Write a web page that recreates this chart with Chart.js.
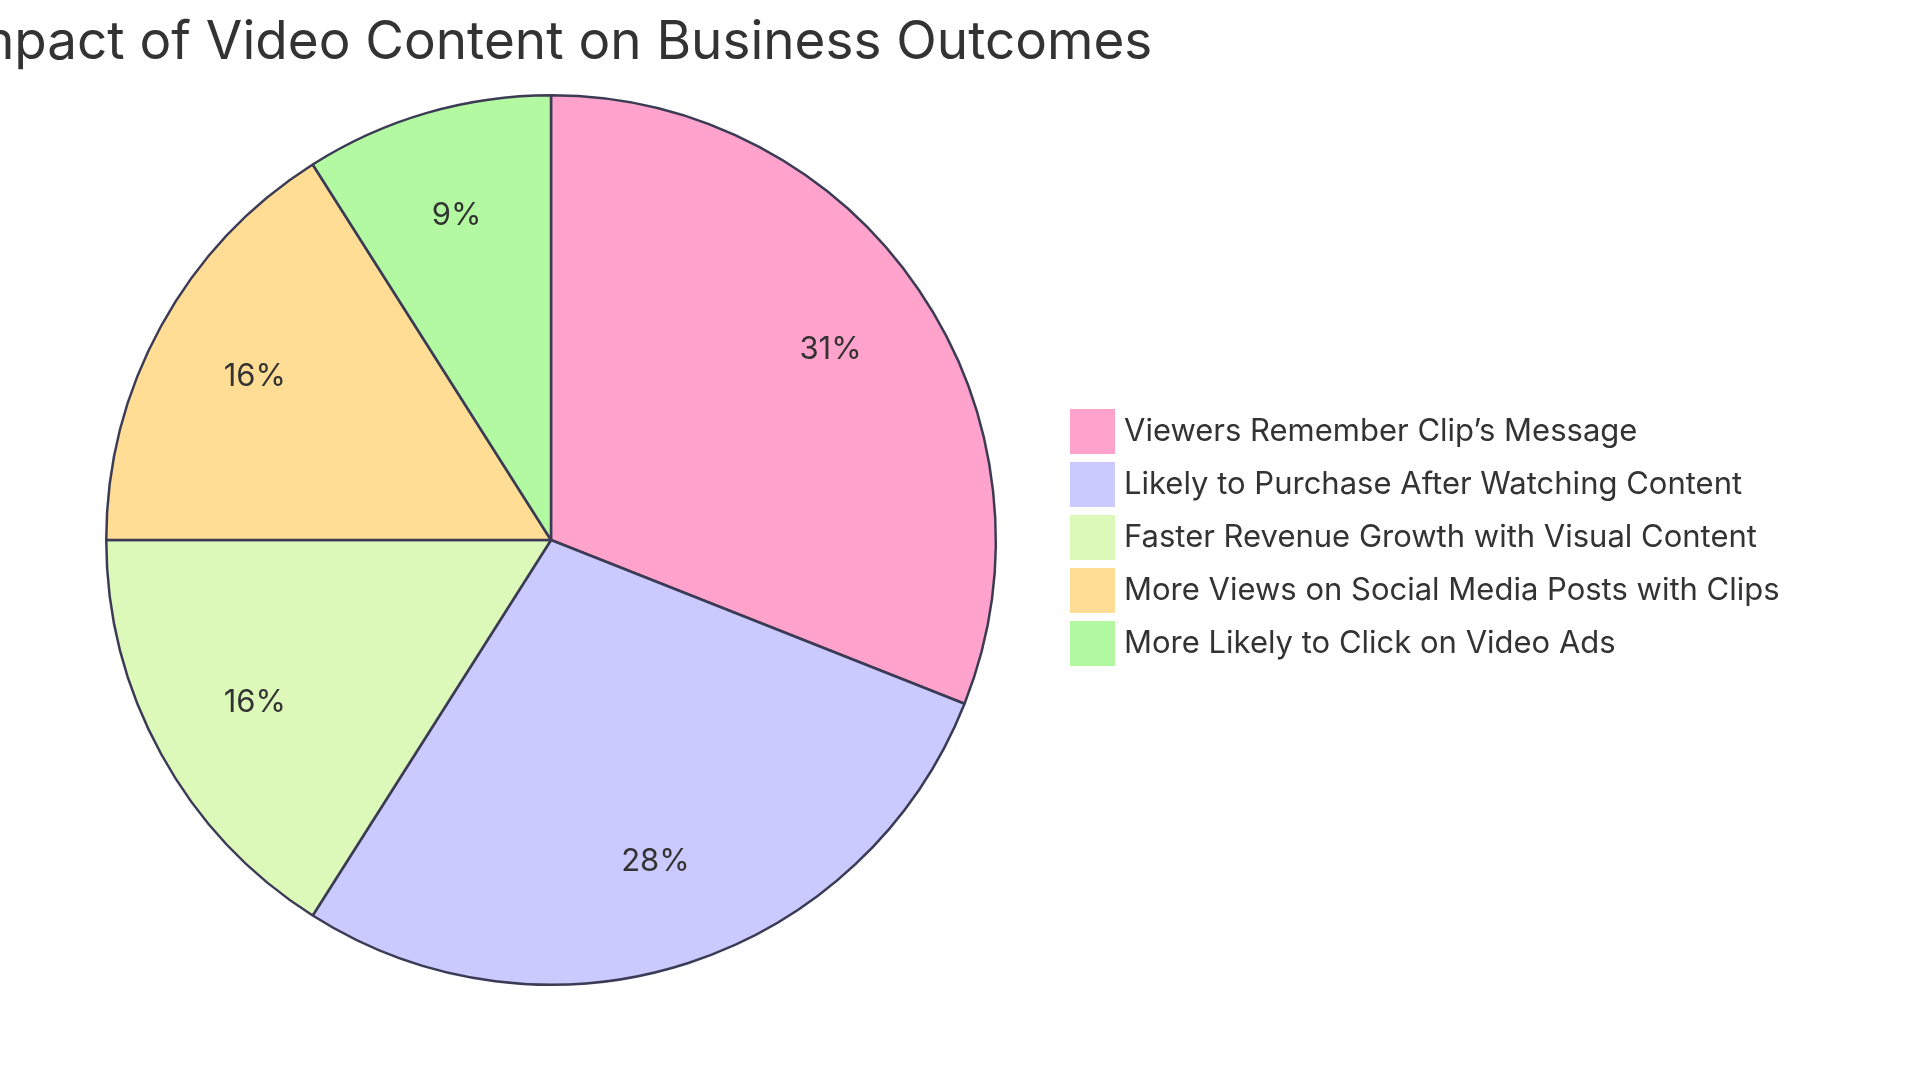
<!DOCTYPE html>
<html><head><meta charset="utf-8">
<script src="https://cdn.jsdelivr.net/npm/chart.js@4"></script>
<style>html,body{margin:0;background:#fff}#w{width:1920px;height:1083px}</style>
</head><body><div id="w"><canvas id="c"></canvas></div>
<script>
const categories=["Viewers Remember Clip’s Message","Likely to Purchase After Watching Content","Faster Revenue Growth with Visual Content","More Views on Social Media Posts with Clips","More Likely to Click on Video Ads"];
const values=[31,28,16,16,9];
const colors=["#FFA3CD","#CACAFF","#DCF9BA","#FFDD94","#B3F9A1"];
const title="Impact of Video Content on Business Outcomes";
const FONT="Inter, 'Noto Sans', sans-serif";
const overlay={id:'overlay',afterDraw(ch){
  const ctx=ch.ctx;ctx.save();
  ctx.fillStyle='#333';ctx.textBaseline='middle';
  ctx.font='400 53px '+FONT;ctx.textAlign='center';
  ctx.fillText(title,553,43);
  const meta=ch.getDatasetMeta(0);
  ctx.font='400 31px '+FONT;
  meta.data.forEach((a,i)=>{
    const mid=(a.startAngle+a.endAngle)/2,r=a.outerRadius*0.76;
    ctx.fillText(values[i]+'%',a.x+Math.cos(mid)*r,a.y+Math.sin(mid)*r);
  });
  ctx.textAlign='left';ctx.font='400 31px '+FONT;
  categories.forEach((c,i)=>{
    const y=431+i*53;
    ctx.fillStyle=colors[i];ctx.fillRect(1070,y-22,45,45);
    ctx.fillStyle='#333';ctx.fillText(c,1124,y+1);
  });
  ctx.restore();
}};
new Chart(document.getElementById('c'),{type:'pie',
 data:{labels:categories,datasets:[{data:values,backgroundColor:colors,borderColor:'#3b3b55',borderWidth:2.5}]},
 options:{responsive:true,maintainAspectRatio:false,animation:false,
  layout:{padding:{left:105,top:94,right:923,bottom:97}},
  plugins:{legend:{display:false},tooltip:{enabled:false},title:{display:false}}},
 plugins:[overlay]});
</script></body></html>
